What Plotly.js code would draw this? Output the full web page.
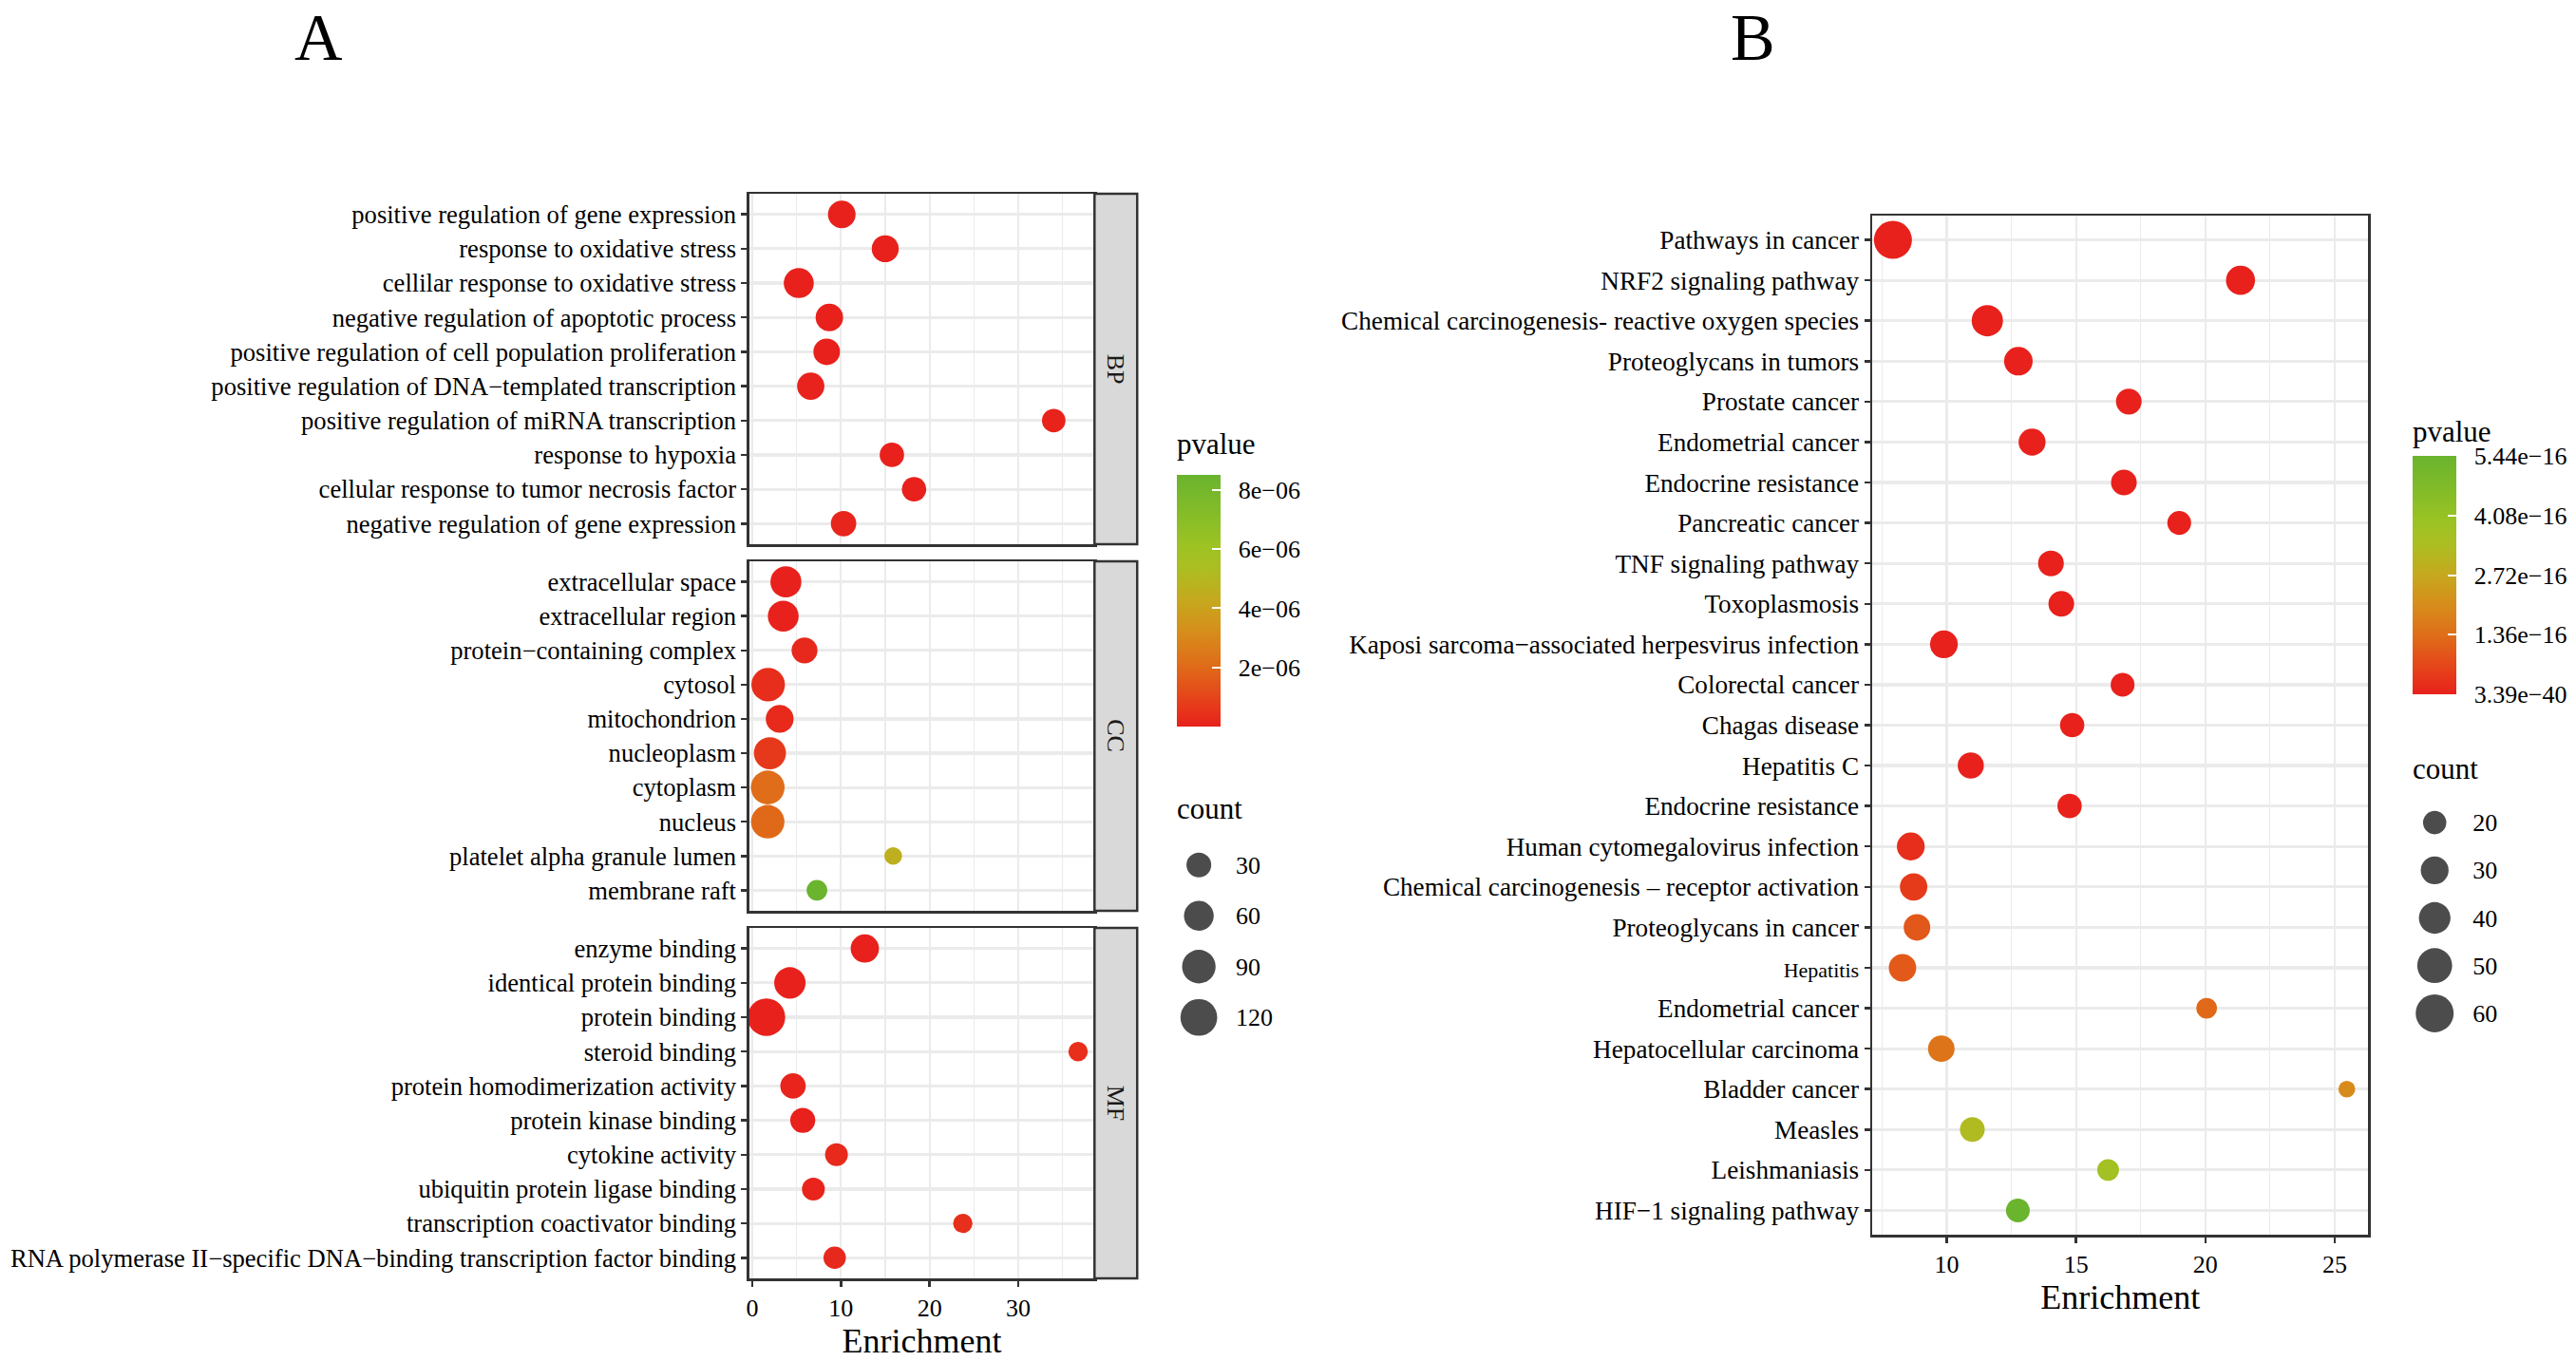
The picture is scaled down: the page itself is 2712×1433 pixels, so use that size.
<!DOCTYPE html>
<html>
<head>
<meta charset="utf-8">
<script src="https://cdn.plot.ly/plotly-3.0.1.min.js"></script>
<style>html,body{margin:0;padding:0;background:#fff;}#chart{width:2712px;height:1433px;}</style>
</head>
<body>
<div id="chart"></div>
<script>
// ---------- Panel A (GO) data ----------
const bpTerms = ["positive regulation of gene expression","response to oxidative stress","cellilar response to oxidative stress","negative regulation of apoptotic process","positive regulation of cell population proliferation","positive regulation of DNA\u2212templated transcription","positive regulation of miRNA transcription","response to hypoxia","cellular response to tumor necrosis factor","negative regulation of gene expression"];
const bpEnrich = [10.1, 15.0, 5.25, 8.7, 8.4, 6.6, 34.0, 15.75, 18.25, 10.3];
const bpCount = [46, 42, 62, 45, 40, 44, 24, 28, 28, 33];
const bpP = [1.2e-12, 3.5e-9, 6.1e-11, 2.2e-10, 8.4e-10, 1.5e-8, 4.7e-8, 2.9e-9, 6.3e-9, 1.1e-7];

const ccTerms = ["extracellular space","extracellular region","protein\u2212containing complex","cytosol","mitochondrion","nucleoplasm","cytoplasm","nucleus","platelet alpha granule lumen","membrane raft"];
const ccEnrich = [3.8, 3.5, 5.9, 1.8, 3.1, 2.0, 1.75, 1.75, 15.9, 7.3];
const ccCount = [69, 68, 36, 90, 47, 78, 92, 89, 5, 13];
const ccP = [2.3e-15, 4.6e-13, 1.8e-7, 3.2e-7, 2.5e-7, 6.5e-7, 2.1e-6, 2.0e-6, 4.6e-6, 8.51e-6];

const mfTerms = ["enzyme binding","identical protein binding","protein binding","steroid binding","protein homodimerization activity","protein kinase binding","cytokine activity","ubiquitin protein ligase binding","transcription coactivator binding","RNA polymerase II\u2212specific DNA\u2212binding transcription factor binding"];
const mfEnrich = [12.7, 4.25, 1.6, 36.75, 4.6, 5.7, 9.5, 6.9, 23.75, 9.3];
const mfCount = [50, 72, 129, 9, 33, 31, 21, 21, 9, 19];
const mfP = [1.4e-9, 2.7e-11, 5.5e-14, 3.9e-7, 8.8e-8, 1.2e-8, 2.6e-7, 7.3e-8, 4.1e-7, 1.9e-7];

const goStrips = ["BP", "CC", "MF"];
const goPTicks = [2e-6, 4e-6, 6e-6, 8e-6];
const goPTickText = ["2e\u221206", "4e\u221206", "6e\u221206", "8e\u221206"];
const goPRange = [0, 8.51e-6];
const goCountBreaks = [30, 60, 90, 120];

// ---------- Panel B (KEGG) data ----------
const keggTerms = ["Pathways in cancer","NRF2 signaling pathway","Chemical carcinogenesis- reactive oxygen species","Proteoglycans in tumors","Prostate cancer","Endometrial cancer","Endocrine resistance","Pancreatic cancer","TNF signaling pathway","Toxoplasmosis","Kaposi sarcoma\u2212associated herpesvirus infection","Colorectal cancer","Chagas disease","Hepatitis C","Endocrine resistance","Human cytomegalovirus infection","Chemical carcinogenesis \u2013 receptor activation","Proteoglycans in cancer","Hepatitis","Endometrial cancer","Hepatocellular carcinoma","Bladder cancer","Measles","Leishmaniasis","HIF\u22121 signaling pathway"];
const keggEnrich = [7.92, 21.36, 11.57, 12.77, 17.04, 13.3, 16.85, 18.99, 14.03, 14.43, 9.89, 16.8, 14.85, 10.93, 14.75, 8.61, 8.72, 8.85, 8.29, 20.05, 9.79, 25.47, 10.99, 16.24, 12.75];
const keggCount = [60, 33, 39, 32, 25, 28, 25, 21, 25, 25, 30, 21, 22, 26, 22, 30, 29, 27, 29, 15, 27, 9, 23, 17, 21];
const keggP = [3.39e-40, 2.1e-25, 5.6e-30, 1.4e-27, 8.2e-22, 3.3e-23, 1.7e-21, 6.9e-20, 2.4e-22, 4.5e-21, 7.8e-26, 9.1e-20, 2.6e-20, 3.8e-23, 5.2e-19, 2.2e-17, 4.5e-17, 9.5e-17, 9.8e-17, 1.25e-16, 1.5e-16, 2.0e-16, 3.3e-16, 3.7e-16, 5.44e-16];

const keggPTicks = [3.39e-40, 1.36e-16, 2.72e-16, 4.08e-16, 5.44e-16];
const keggPTickText = ["3.39e\u221240", "1.36e\u221216", "2.72e\u221216", "4.08e\u221216", "5.44e\u221216"];
const keggPRange = [3.39e-40, 5.44e-16];
const keggCountBreaks = [20, 30, 40, 50, 60];

// ---------- styling ----------
const W = 2712, H = 1433;
const px = v => v / W;
const py = v => 1 - v / H;
const FONT = "Liberation Serif";
const colorscale = [
  [0, "#E8211C"], [0.12, "#E5461A"], [0.25, "#DF6E19"], [0.38, "#D68E1B"], [0.5, "#C6A81E"],
  [0.62, "#ADBD21"], [0.72, "#9CC323"], [0.85, "#84BC28"], [1, "#6AB42E"]
];
const sizeA = c => 13.5 + 2.3 * Math.sqrt(c);
const sizeB = c => 3.5 + 4.71 * Math.sqrt(c);
const GRID = "#EBEBEB", BORDER = "#333333";
const PAD = "\u00a0\u00a0";   // spacing between colour bar and its labels

function cbar(x, yBottom, lenPx, vals, text) {
  return {
    x: px(x), xanchor: "left", xref: "paper", xpad: 0,
    y: py(yBottom), yanchor: "bottom", yref: "paper", ypad: 0,
    len: lenPx, lenmode: "pixels", thickness: 46, thicknessmode: "pixels",
    outlinewidth: 0, tickvals: vals, ticktext: text.map(t => PAD + t),
    ticks: "inside", tickcolor: "#ffffff", ticklen: 9, tickwidth: 2,
    tickfont: { family: FONT, size: 26, color: "#000" }
  };
}

function goTrace(terms, enrich, count, p, xa, ya, showScale) {
  const t = {
    type: "scatter", mode: "markers", x: enrich, y: terms, xaxis: xa, yaxis: ya,
    hoverinfo: "x+y",
    marker: { size: count.map(sizeA), color: p, colorscale: colorscale,
      cmin: goPRange[0], cmax: goPRange[1], opacity: 1, line: { width: 0 }, showscale: showScale }
  };
  if (showScale) t.marker.colorbar = cbar(1241, 765, 265, goPTicks, goPTickText);
  return t;
}

const keggIdx = keggTerms.map((_, i) => i);
const keggTickText = keggTerms.map(t => t === "Hepatitis" ? '<span style="font-size:22px">' + t + '</span>' : t);

const traces = [
  goTrace(bpTerms, bpEnrich, bpCount, bpP, "x", "y", false),
  goTrace(ccTerms, ccEnrich, ccCount, ccP, "x2", "y2", false),
  goTrace(mfTerms, mfEnrich, mfCount, mfP, "x3", "y3", true),
  {
    type: "scatter", mode: "markers", x: keggEnrich, y: keggIdx, xaxis: "x4", yaxis: "y4",
    text: keggTerms, hoverinfo: "x+text",
    marker: { size: keggCount.map(sizeB), color: keggP, colorscale: colorscale,
      cmin: keggPRange[0], cmax: keggPRange[1], opacity: 1, line: { width: 0 }, showscale: true,
      colorbar: cbar(2544, 731, 251, keggPTicks, keggPTickText) }
  },
  {
    type: "scatter", mode: "markers", x: goCountBreaks.map(() => 0.5), y: goCountBreaks.map(String),
    xaxis: "x5", yaxis: "y5", hoverinfo: "skip",
    marker: { size: goCountBreaks.map(sizeA), color: "#000", line: { width: 0 } }
  },
  {
    type: "scatter", mode: "markers", x: keggCountBreaks.map(() => 0.5), y: keggCountBreaks.map(String),
    xaxis: "x6", yaxis: "y6", hoverinfo: "skip",
    marker: { size: keggCountBreaks.map(sizeB), color: "#000", line: { width: 0 } }
  }
];

const tickFont = { family: FONT, size: 26, color: "#000" };
function xGo(anchor, labels) {
  return {
    domain: [px(790), px(1154)], anchor: anchor, range: [-0.33, 38.6],
    dtick: 10, tick0: 0, showgrid: true, gridcolor: GRID, gridwidth: 2.2,
    minor: { dtick: 5, tick0: 0, showgrid: true, gridcolor: GRID, gridwidth: 1.2 },
    zeroline: false, showline: true, linecolor: BORDER, linewidth: 2.5, mirror: true,
    ticks: labels ? "outside" : "", ticklen: 6, tickwidth: 2.5, tickcolor: BORDER,
    showticklabels: labels, tickfont: tickFont,
    title: labels ? { text: "Enrichment", font: { family: FONT, size: 36, color: "#000" }, standoff: 8 } : undefined
  };
}
function yGo(terms, top, bottom, anchor) {
  return {
    domain: [py(bottom), py(top)], anchor: anchor, type: "category",
    categoryorder: "array", categoryarray: terms, range: [terms.length - 0.4, -0.6],
    showgrid: true, gridcolor: GRID, gridwidth: 3.2, zeroline: false,
    showline: true, linecolor: BORDER, linewidth: 2.5, mirror: true,
    ticks: "outside", ticklen: 6, tickwidth: 2.5, tickcolor: BORDER,
    tickfont: { family: FONT, size: 26.6, color: "#000" }
  };
}
function note(text, x, y, size, extra) {
  return Object.assign({ text: text, xref: "paper", yref: "paper", x: x, y: y,
    xanchor: "left", yanchor: "middle", showarrow: false,
    font: { family: FONT, size: size, color: "#000" } }, extra || {});
}

const layout = {
  width: W, height: H, autosize: false,
  margin: { l: 0, r: 0, t: 0, b: 0, pad: 0 },
  paper_bgcolor: "#fff", plot_bgcolor: "#fff",
  font: { family: FONT, color: "#000" },
  showlegend: false,
  xaxis: xGo("y", false),
  yaxis: yGo(bpTerms, 204, 573, "x"),
  xaxis2: xGo("y2", false),
  yaxis2: yGo(ccTerms, 591, 959, "x2"),
  xaxis3: xGo("y3", true),
  yaxis3: yGo(mfTerms, 977, 1346, "x3"),
  xaxis4: {
    domain: [px(1974), px(2497)], anchor: "y4", range: [7.12, 26.3],
    dtick: 5, tick0: 0, showgrid: true, gridcolor: GRID, gridwidth: 2.2,
    minor: { dtick: 2.5, tick0: 0, showgrid: true, gridcolor: GRID, gridwidth: 1.2 },
    zeroline: false, showline: true, linecolor: BORDER, linewidth: 2.5, mirror: true,
    ticks: "outside", ticklen: 6, tickwidth: 2.5, tickcolor: BORDER, tickfont: tickFont,
    title: { text: "Enrichment", font: { family: FONT, size: 36, color: "#000" }, standoff: 6 }
  },
  yaxis4: {
    domain: [py(1300), py(227)], anchor: "x4", range: [keggTerms.length - 0.4, -0.6],
    tickvals: keggIdx, ticktext: keggTickText,
    showgrid: true, gridcolor: GRID, gridwidth: 3.2, zeroline: false,
    showline: true, linecolor: BORDER, linewidth: 2.5, mirror: true,
    ticks: "outside", ticklen: 6, tickwidth: 2.5, tickcolor: BORDER,
    tickfont: { family: FONT, size: 27.2, color: "#000" }
  },
  xaxis5: { domain: [px(1241), px(1287)], anchor: "y5", range: [0, 1], visible: false, fixedrange: true },
  yaxis5: {
    domain: [py(1098), py(884)], anchor: "x5", type: "category", side: "right",
    categoryorder: "array", categoryarray: goCountBreaks.map(String), range: [3.5, -0.5],
    showgrid: false, zeroline: false, showline: false, ticks: "", ticklabelstandoff: 15,
    tickfont: tickFont
  },
  xaxis6: { domain: [px(2544), px(2590)], anchor: "y6", range: [0, 1], visible: false, fixedrange: true },
  yaxis6: {
    domain: [py(1092), py(841)], anchor: "x6", type: "category", side: "right",
    categoryorder: "array", categoryarray: keggCountBreaks.map(String), range: [4.5, -0.5],
    showgrid: false, zeroline: false, showline: false, ticks: "", ticklabelstandoff: 16,
    tickfont: tickFont
  },
  shapes: ["y", "y2", "y3"].map(ya => ({
    type: "rect", xref: "paper", yref: ya + " domain", x0: px(1154), x1: px(1199), y0: 0, y1: 1,
    fillcolor: "#D9D9D9", line: { color: BORDER, width: 2.5 }, layer: "above"
  })),
  annotations: [
    ...goStrips.map((s, i) => ({
      text: s, xref: "paper", yref: ["y", "y2", "y3"][i] + " domain", x: px(1176.5), y: 0.5,
      xanchor: "center", yanchor: "middle",
      showarrow: false, textangle: 90, font: { family: FONT, size: 26, color: "#1a1a1a" }
    })),
    note("A", px(336), 1, 70, { xanchor: "center", yanchor: "top", borderpad: 0 }),
    note("B", px(1848), 1, 70, { xanchor: "center", yanchor: "top", borderpad: 0 }),
    note("pvalue", px(1239), py(467), 31),
    note("count", px(1239), py(851), 31),
    note("pvalue", px(2542), py(454), 31),
    note("count", px(2542), py(810), 31)
  ]
};

Plotly.newPlot("chart", traces, layout, { staticPlot: true, displayModeBar: false });
</script>
</body>
</html>
